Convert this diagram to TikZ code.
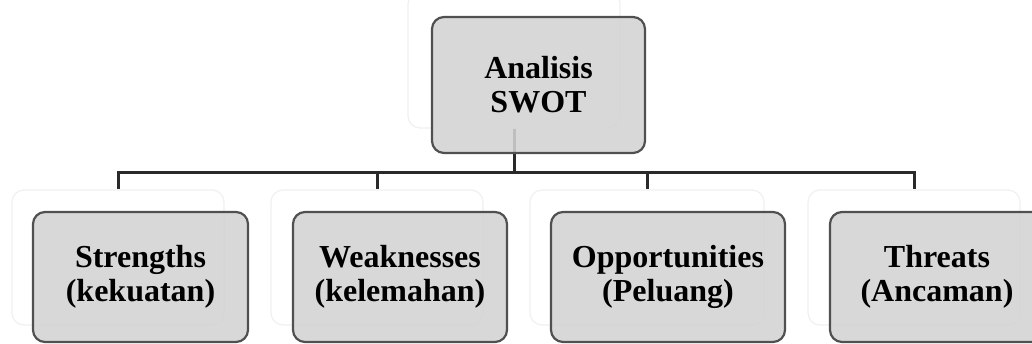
\documentclass[tikz,border=0pt]{standalone}
\usepackage{fontspec}
\setmainfont{Liberation Serif}
\definecolor{boxfill}{HTML}{D3D3D3}
\definecolor{boxline}{HTML}{505050}
\definecolor{connline}{HTML}{2A2A2A}
\begin{document}
\begin{tikzpicture}[x=1pt,y=-1pt,
  shadowbox/.style={draw=black!6, line width=1.2pt, fill=white, rounded corners=12pt, inner sep=0pt},
  mainbox/.style={draw=boxline, line width=2.2pt, fill=boxfill, fill opacity=0.88, text opacity=1,
    rounded corners=12pt, inner sep=0pt, align=center,
    font=\fontsize{32}{34}\selectfont\bfseries},
  conn/.style={draw=connline, line width=3pt}]
\useasboundingbox (0,0) rectangle (1032,344);
% reflections
\node[shadowbox, minimum width=212pt, minimum height=136pt] (ts) at (514,60) {};
\node[shadowbox, minimum width=212pt, minimum height=135pt] (ss) at (118,257.5) {};
\node[shadowbox, minimum width=212pt, minimum height=135pt] (ws) at (377,257.5) {};
\node[shadowbox, minimum width=234pt, minimum height=135pt] (os) at (647,257.5) {};
\node[shadowbox, minimum width=212pt, minimum height=135pt] (hs) at (914,257.5) {};
% connectors
\draw[conn] (ts.south) -- ++(0,44) -| (ss.north);
\draw[conn] (ts.south) -- ++(0,44) -| (ws.north);
\draw[conn] (ts.south) -- ++(0,44) -| (os.north);
\draw[conn] (ts.south) -- ++(0,44) -| (hs.north);
% boxes
\node[mainbox, minimum width=213pt, minimum height=136pt] (t) at (538.5,85) {Analisis\\SWOT};
\node[mainbox, minimum width=215pt, minimum height=130pt] (s) at (140.5,277) {Strengths\\(kekuatan)};
\node[mainbox, minimum width=214pt, minimum height=130pt] (w) at (400,277) {Weaknesses\\(kelemahan)};
\node[mainbox, minimum width=234pt, minimum height=130pt] (o) at (668,277) {Opportunities\\(Peluang)};
\node[mainbox, minimum width=214pt, minimum height=130pt] (h) at (937,277) {Threats\\(Ancaman)};
\end{tikzpicture}
\end{document}
